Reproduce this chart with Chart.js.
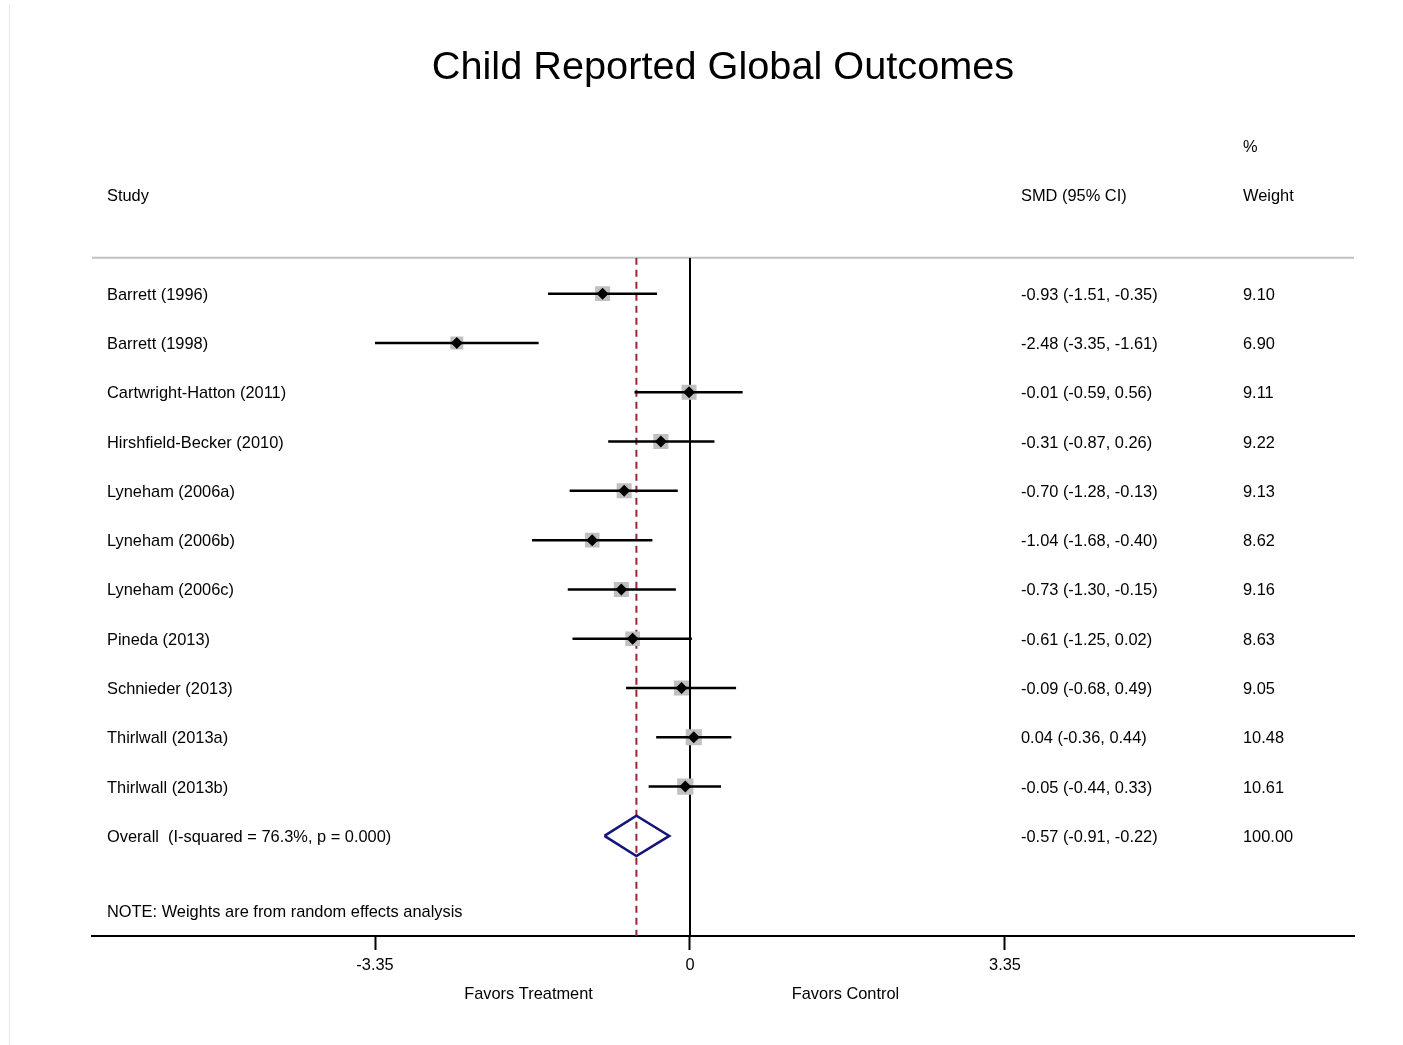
<!DOCTYPE html>
<html>
<head>
<meta charset="utf-8">
<title>Child Reported Global Outcomes</title>
<script src="https://cdn.jsdelivr.net/npm/chart.js@4.4.1/dist/chart.umd.min.js"></script>
<style>
  html, body { margin: 0; padding: 0; background: #fff; }
  #wrap { width: 1403px; height: 1045px; }
</style>
</head>
<body>
<div id="wrap"><canvas id="forest" width="1403" height="1045"></canvas></div>
<script>
// studies and their effect sizes
const studies = [
  'Barrett (1996)', 'Barrett (1998)', 'Cartwright-Hatton (2011)', 'Hirshfield-Becker (2010)',
  'Lyneham (2006a)', 'Lyneham (2006b)', 'Lyneham (2006c)', 'Pineda (2013)',
  'Schnieder (2013)', 'Thirlwall (2013a)', 'Thirlwall (2013b)'
];
const smd    = [-0.93, -2.48, -0.01, -0.31, -0.70, -1.04, -0.73, -0.61, -0.09, 0.04, -0.05];
const ciLow  = [-1.51, -3.35, -0.59, -0.87, -1.28, -1.68, -1.30, -1.25, -0.68, -0.36, -0.44];
const ciHigh = [-0.35, -1.61, 0.56, 0.26, -0.13, -0.40, -0.15, 0.02, 0.49, 0.44, 0.33];
const weights = [9.10, 6.90, 9.11, 9.22, 9.13, 8.62, 9.16, 8.63, 9.05, 10.48, 10.61];

// pooled estimate
const overallLabel = 'Overall  (I-squared = 76.3%, p = 0.000)';
const overallSmd = -0.57;
const overallLow = -0.91;
const overallHigh = -0.22;
const overallWeight = 100.00;

// axis
const xTicks = [-3.35, 0, 3.35];
const xTickLabels = ['-3.35', '0', '3.35'];
const xMin = -6.36, xMax = 7.062;
const rowTop = -0.73, rowBottom = 13.03;

const FONT = '"Liberation Sans", Arial, sans-serif';
const overallRow = studies.length;
const fmt = v => v.toFixed(2);

// CI lines as one line with gaps between studies
const ciSegments = studies.flatMap((_, i) => [
  { x: ciLow[i], y: i }, { x: ciHigh[i], y: i }, { x: ciHigh[i], y: null }
]);
const points = studies.map((_, i) => ({ x: smd[i], y: i }));
const diamondHalf = 0.41;
const overallDiamond = [
  { x: overallLow, y: overallRow },
  { x: overallSmd, y: overallRow - diamondHalf },
  { x: overallHigh, y: overallRow },
  { x: overallSmd, y: overallRow + diamondHalf },
  { x: overallLow, y: overallRow }
];

const tablePlugin = {
  id: 'forestTable',
  beforeDraw(chart) {
    const ctx = chart.ctx;
    ctx.save();
    ctx.fillStyle = '#fff';
    ctx.fillRect(0, 0, chart.width, chart.height);
    ctx.strokeStyle = '#e6e6e6';
    ctx.lineWidth = 1;
    ctx.beginPath();
    ctx.moveTo(9.5, 4);
    ctx.lineTo(9.5, chart.height);
    ctx.stroke();
    ctx.restore();
  },
  beforeDatasetsDraw(chart) {
    const { ctx, chartArea } = chart;
    ctx.save();
    ctx.strokeStyle = '#c0c0c0';
    ctx.lineWidth = 2;
    ctx.beginPath();
    ctx.moveTo(chartArea.left, chartArea.top);
    ctx.lineTo(chartArea.right, chartArea.top);
    ctx.stroke();
    ctx.restore();
  },
  afterDraw(chart) {
    const { ctx, chartArea } = chart;
    const y = chart.scales.y;
    const rowY = v => y.getPixelForValue(v) + 1.5;
    const colStudy = 107, colSmd = 1021, colWeight = 1243;
    ctx.save();
    ctx.fillStyle = '#000';
    ctx.textBaseline = 'middle';
    ctx.textAlign = 'left';
    ctx.font = '16.4px ' + FONT;

    ctx.fillText('%', colWeight, rowY(-3));
    ctx.fillText('Study', colStudy, rowY(-2));
    ctx.fillText('SMD (95% CI)', colSmd, rowY(-2));
    ctx.fillText('Weight', colWeight, rowY(-2));

    studies.forEach((name, i) => {
      const py = rowY(i);
      ctx.fillText(name, colStudy, py);
      ctx.fillText(`${fmt(smd[i])} (${fmt(ciLow[i])}, ${fmt(ciHigh[i])})`, colSmd, py);
      ctx.fillText(fmt(weights[i]), colWeight, py);
    });

    const po = rowY(overallRow);
    ctx.fillText(overallLabel, colStudy, po);
    ctx.fillText(`${fmt(overallSmd)} (${fmt(overallLow)}, ${fmt(overallHigh)})`, colSmd, po);
    ctx.fillText(fmt(overallWeight), colWeight, po);

    ctx.fillText('NOTE: Weights are from random effects analysis', colStudy, rowY(12.515));

    // direction labels under the axis
    const x = chart.scales.x;
    ctx.textAlign = 'center';
    const fy = chartArea.bottom + 58;
    ctx.fillText('Favors Treatment', (x.getPixelForValue(xTicks[0]) + x.getPixelForValue(xTicks[1])) / 2 - 4, fy);
    ctx.fillText('Favors Control', (x.getPixelForValue(xTicks[1]) + x.getPixelForValue(xTicks[2])) / 2 - 2, fy);
    ctx.restore();
  }
};

new Chart(document.getElementById('forest'), {
  type: 'line',
  data: {
    datasets: [
      {
        type: 'scatter',
        data: points,
        pointStyle: 'rectRot',
        pointRadius: 6,
        backgroundColor: '#000',
        borderWidth: 0
      },
      {
        type: 'line',
        data: ciSegments,
        borderColor: '#000',
        borderWidth: 2.5,
        pointRadius: 0,
        spanGaps: false
      },
      {
        type: 'scatter',
        data: points,
        pointStyle: 'rect',
        pointRadius: ctx => 3.514 * Math.sqrt(weights[ctx.dataIndex]),
        backgroundColor: '#c0c0c0',
        borderWidth: 0
      },
      {
        type: 'line',
        data: overallDiamond,
        borderColor: '#14147a',
        borderWidth: 2.5,
        borderJoinStyle: 'miter',
        pointRadius: 0,
        tension: 0
      },
      {
        type: 'line',
        data: [{ x: overallSmd, y: rowTop }, { x: overallSmd, y: rowBottom }],
        borderColor: '#9b2335',
        borderWidth: 2,
        borderDash: [7, 5],
        pointRadius: 0
      },
      {
        type: 'line',
        data: [{ x: 0, y: rowTop }, { x: 0, y: rowBottom }],
        borderColor: '#000',
        borderWidth: 2,
        pointRadius: 0
      }
    ]
  },
  options: {
    responsive: false,
    animation: false,
    events: [],
    layout: { padding: { left: 92, right: 49, top: 0, bottom: 0 } },
    plugins: {
      legend: { display: false },
      tooltip: { enabled: false },
      title: {
        display: true,
        text: 'Child Reported Global Outcomes',
        color: '#000',
        font: { family: FONT, size: 39.7, weight: 'normal' },
        padding: { top: 44, bottom: 166 }
      }
    },
    scales: {
      x: {
        type: 'linear',
        min: xMin,
        max: xMax,
        afterBuildTicks: s => { s.ticks = xTicks.map(v => ({ value: v })); },
        afterFit: s => { s.height = 109; },
        grid: { drawOnChartArea: false, drawTicks: true, tickLength: 14, tickWidth: 2, tickColor: '#000' },
        border: { display: true, color: '#000', width: 2 },
        ticks: {
          color: '#000',
          font: { family: FONT, size: 16.4 },
          padding: 6,
          maxRotation: 0,
          autoSkip: false,
          callback: v => xTickLabels[xTicks.indexOf(v)] ?? String(v)
        }
      },
      y: {
        type: 'linear',
        min: rowTop,
        max: rowBottom,
        reverse: true,
        display: false
      }
    }
  },
  plugins: [tablePlugin]
});
</script>
</body>
</html>
